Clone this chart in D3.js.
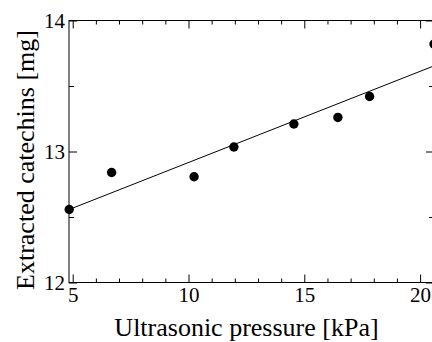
<!DOCTYPE html>
<html>
<head>
<meta charset="utf-8">
<script src="https://cdn.jsdelivr.net/npm/d3@7"></script>
<style>
  body { margin: 0; background: #fff; }
  svg text { font-family: "Liberation Serif", "Times New Roman", Times, serif !important; fill: #000; }
</style>
</head>
<body>
<div id="chart"></div>
<script>
// Measured points
const pressure = [4.85, 6.68, 10.24, 11.96, 14.55, 16.45, 17.82, 20.6];
const catechins = [12.557, 12.84, 12.807, 13.034, 13.21, 13.26, 13.42, 13.82];

// Linear fit
const fitSlope = 0.0696;
const fitIntercept = 12.22;

const xTicks = [5, 10, 15, 20];
const yTicks = [12, 13, 14];

const W = 432, H = 342;
const mLeft = 69, mRight = 434, mTop = 20.5, mBottom = 282.5;
const serif = "'Liberation Serif', 'Times New Roman', Times, serif";

const svg = d3.select("#chart").append("svg")
    .attr("width", W)
    .attr("height", H)
    .attr("font-family", serif);

const x = d3.scaleLinear().domain([4.84, 20.6]).range([mLeft, mRight]);
const y = d3.scaleLinear().domain([12, 14]).range([mBottom, mTop]);

// Frame
svg.append("rect")
    .attr("x", mLeft).attr("y", mTop)
    .attr("width", mRight - mLeft).attr("height", mBottom - mTop)
    .attr("fill", "none").attr("stroke", "#000").attr("stroke-width", 1);

// minor ticks every 1 kPa, majors every 5
const xMinor = d3.range(5, 21, 1).filter(v => v % 5 !== 0);
const yMinor = [12.5, 13.5];

// bottom axis (inward ticks)
const bottomAxis = svg.append("g").attr("transform", `translate(0,${mBottom})`);
bottomAxis.call(d3.axisBottom(x).tickValues(xTicks).tickSize(-8).tickPadding(5).tickFormat(d3.format("d")));
bottomAxis.append("g").call(d3.axisBottom(x).tickValues(xMinor).tickSize(-4).tickFormat(""));

const topAxis = svg.append("g").attr("transform", `translate(0,${mTop})`);
topAxis.call(d3.axisTop(x).tickValues(xTicks).tickSize(-8).tickFormat(""));
topAxis.append("g").call(d3.axisTop(x).tickValues(xMinor).tickSize(-4).tickFormat(""));

const leftAxis = svg.append("g").attr("transform", `translate(${mLeft},0)`);
leftAxis.call(d3.axisLeft(y).tickValues(yTicks).tickSize(-8).tickPadding(4).tickFormat(d3.format("d")));
leftAxis.append("g").call(d3.axisLeft(y).tickValues(yMinor).tickSize(-5).tickFormat(""));

const rightAxis = svg.append("g").attr("transform", `translate(${mRight},0)`);
rightAxis.call(d3.axisRight(y).tickValues(yTicks).tickSize(-8).tickFormat(""));
rightAxis.append("g").call(d3.axisRight(y).tickValues(yMinor).tickSize(-5).tickFormat(""));

svg.selectAll(".domain").remove();
svg.selectAll("g").attr("font-family", serif).attr("font-size", 21);
svg.selectAll(".tick line").attr("stroke", "#000");

// Fit line
const line = d3.line()
    .x(d => x(d))
    .y(d => y(fitIntercept + fitSlope * d));

svg.append("path")
    .datum(x.domain())
    .attr("fill", "none")
    .attr("stroke", "#000")
    .attr("stroke-width", 1)
    .attr("d", line);

// Points
svg.append("g")
    .selectAll("circle")
    .data(pressure)
    .join("circle")
    .attr("cx", d => x(d))
    .attr("cy", (d, i) => y(catechins[i]))
    .attr("r", 4.7)
    .attr("fill", "#000");

// Axis titles
svg.append("text")
    .attr("x", 246.5)
    .attr("y", 336)
    .attr("text-anchor", "middle")
    .attr("font-size", 26)
    .text("Ultrasonic pressure [kPa]");

svg.append("text")
    .attr("transform", "translate(33.5,160) rotate(-90)")
    .attr("text-anchor", "middle")
    .attr("font-size", 26)
    .text("Extracted catechins [mg]");
</script>
</body>
</html>
